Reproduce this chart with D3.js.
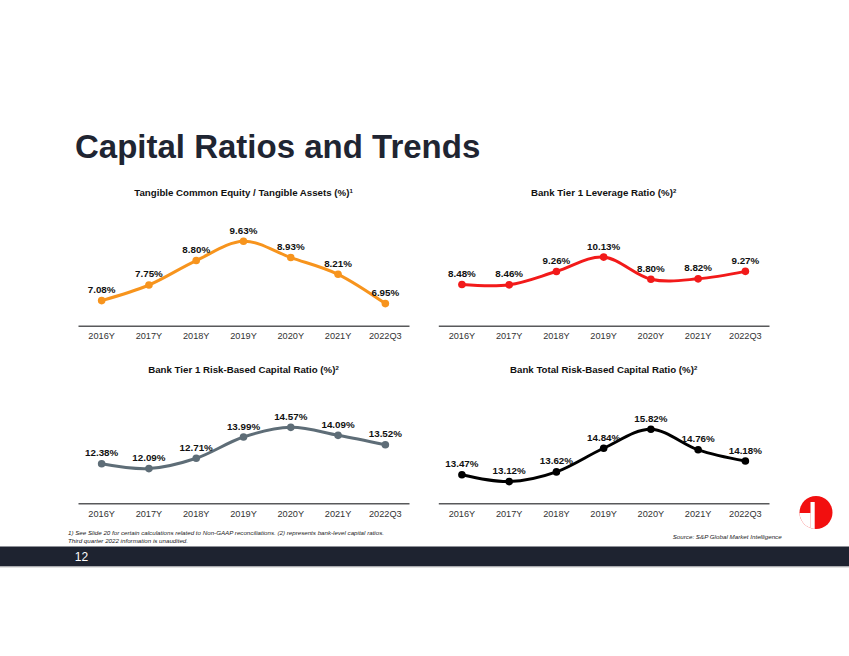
<!DOCTYPE html>
<html>
<head>
<meta charset="utf-8">
<script src="https://cdn.jsdelivr.net/npm/d3@7"></script>
<style>
  html, body { margin: 0; padding: 0; background: #ffffff; }
  svg { display: block; font-family: Arial, "Liberation Sans", sans-serif; }
</style>
</head>
<body>
<svg id="chart" width="849" height="656"></svg>
<script>
// ---- Data ----
const categories = ["2016Y", "2017Y", "2018Y", "2019Y", "2020Y", "2021Y", "2022Q3"];
const tceValues = [7.08, 7.75, 8.80, 9.63, 8.93, 8.21, 6.95];
const leverageValues = [8.48, 8.46, 9.26, 10.13, 8.80, 8.82, 9.27];
const tier1RbcValues = [12.38, 12.09, 12.71, 13.99, 14.57, 14.09, 13.52];
const totalRbcValues = [13.47, 13.12, 13.62, 14.84, 15.82, 14.76, 14.18];
const chartTitles = [
  "Tangible Common Equity / Tangible Assets (%)",
  "Bank Tier 1 Leverage Ratio (%)",
  "Bank Tier 1 Risk-Based Capital Ratio (%)",
  "Bank Total Risk-Based Capital Ratio (%)"
];
const titleNotes = ["1", "2", "2", "2"];
const yDomains = [[6, 11], [6, 13], [10, 17], [12, 18]];
const seriesColors = ["#F7941D", "#F21A1A", "#5E6D77", "#000000"];

const pageTitle = "Capital Ratios and Trends";
const footnote1 = "1) See Slide 20 for certain calculations related to Non-GAAP reconciliations. (2) represents bank-level capital ratios.";
const footnote2 = "Third quarter 2022 information is unaudited.";
const sourceText = "Source: S&P Global Market Intelligence";
const pageNumber = "12";

const seriesList = [tceValues, leverageValues, tier1RbcValues, totalRbcValues];

// ---- Layout ----
const svg = d3.select("#chart");
const panels = [
  { x0: 78, x1: 409, yBottom: 325.7, titleY: 196.3 },
  { x0: 438.3, x1: 769, yBottom: 325.7, titleY: 196.3 },
  { x0: 78, x1: 409, yBottom: 503.3, titleY: 373 },
  { x0: 438.3, x1: 769, yBottom: 503.3, titleY: 373 }
];
const plotH = 116.3;

// Page title
svg.append("text")
  .attr("x", 75).attr("y", 157.5)
  .attr("fill", "#1F2532")
  .attr("font-size", 33)
  .attr("font-weight", "bold")
  .text(pageTitle);

panels.forEach((p, i) => {
  const values = seriesList[i];
  const x = d3.scaleBand().domain(categories).range([p.x0, p.x1]);
  const y = d3.scaleLinear().domain(yDomains[i]).range([p.yBottom, p.yBottom - plotH]);
  const cx = c => x(c) + x.bandwidth() / 2;
  const g = svg.append("g");

  // Title
  const t = g.append("text")
    .attr("x", (p.x0 + p.x1) / 2).attr("y", p.titleY)
    .attr("text-anchor", "middle")
    .attr("font-size", 9.7).attr("font-weight", "bold").attr("fill", "#111");
  t.append("tspan").text(chartTitles[i]);
  t.append("tspan").attr("font-size", 6).attr("dy", -3.5).text(titleNotes[i]);

  // Axis
  const axis = d3.axisBottom(x).tickSize(0).tickPadding(7);
  const ag = g.append("g").attr("transform", `translate(0,${p.yBottom})`).call(axis);
  ag.select(".domain").attr("stroke", "#58595B").attr("stroke-width", 1.6);
  ag.selectAll("text").attr("font-size", 9.2).attr("fill", "#333")
    .attr("font-family", "Arial, 'Liberation Sans', sans-serif");

  // Line
  const data = categories.map((c, k) => ({ c, v: values[k] }));
  const line = d3.line().x(d => cx(d.c)).y(d => y(d.v)).curve(d3.curveCardinal.tension(0));
  g.append("path").datum(data)
    .attr("d", line).attr("fill", "none")
    .attr("stroke", seriesColors[i]).attr("stroke-width", 3);

  g.selectAll("circle.pt").data(data).enter().append("circle")
    .attr("class", "pt")
    .attr("cx", d => cx(d.c)).attr("cy", d => y(d.v)).attr("r", 3.8)
    .attr("fill", seriesColors[i]);

  g.selectAll("text.lbl").data(data).enter().append("text")
    .attr("class", "lbl")
    .attr("x", d => cx(d.c)).attr("y", d => y(d.v) - 7.5)
    .attr("text-anchor", "middle")
    .attr("font-size", 9.8).attr("font-weight", "bold").attr("fill", "#111")
    .text(d => d.v.toFixed(2) + "%");
});

// Footnotes
svg.append("text").attr("x", 68).attr("y", 535)
  .attr("font-size", 6).attr("font-style", "italic").attr("fill", "#222")
  .attr("textLength", 316).attr("lengthAdjust", "spacingAndGlyphs")
  .text(footnote1);
svg.append("text").attr("x", 68).attr("y", 542.5)
  .attr("font-size", 6).attr("font-style", "italic").attr("fill", "#222")
  .attr("textLength", 120).attr("lengthAdjust", "spacingAndGlyphs")
  .text(footnote2);
svg.append("text").attr("x", 672.7).attr("y", 539)
  .attr("font-size", 6).attr("font-style", "italic").attr("fill", "#222")
  .attr("textLength", 109).attr("lengthAdjust", "spacingAndGlyphs")
  .text(sourceText);

// Logo
const defs = svg.append("defs");
const clip = defs.append("clipPath").attr("id", "logoClip");
clip.append("circle").attr("cx", 816).attr("cy", 512.5).attr("r", 16.5);
const logo = svg.append("g").attr("clip-path", "url(#logoClip)");
logo.append("rect").attr("x", 799).attr("y", 495).attr("width", 34).attr("height", 35).attr("fill", "#F20F0F");
logo.append("rect").attr("x", 810.5).attr("y", 502).attr("width", 4.2).attr("height", 30).attr("fill", "#fff");
logo.append("rect").attr("x", 797).attr("y", 513).attr("width", 13.6).attr("height", 20).attr("fill", "#fff");

// Footer bar
svg.append("rect").attr("x", 0).attr("y", 546.5).attr("width", 849).attr("height", 20)
  .attr("fill", "#1E2330");
svg.append("line").attr("x1", 0).attr("x2", 849).attr("y1", 567).attr("y2", 567)
  .attr("stroke", "#c8c8c8").attr("stroke-width", 1);
svg.append("text").attr("x", 81.5).attr("y", 561)
  .attr("text-anchor", "middle")
  .attr("font-size", 12).attr("fill", "#ffffff")
  .text(pageNumber);
</script>
</body>
</html>
